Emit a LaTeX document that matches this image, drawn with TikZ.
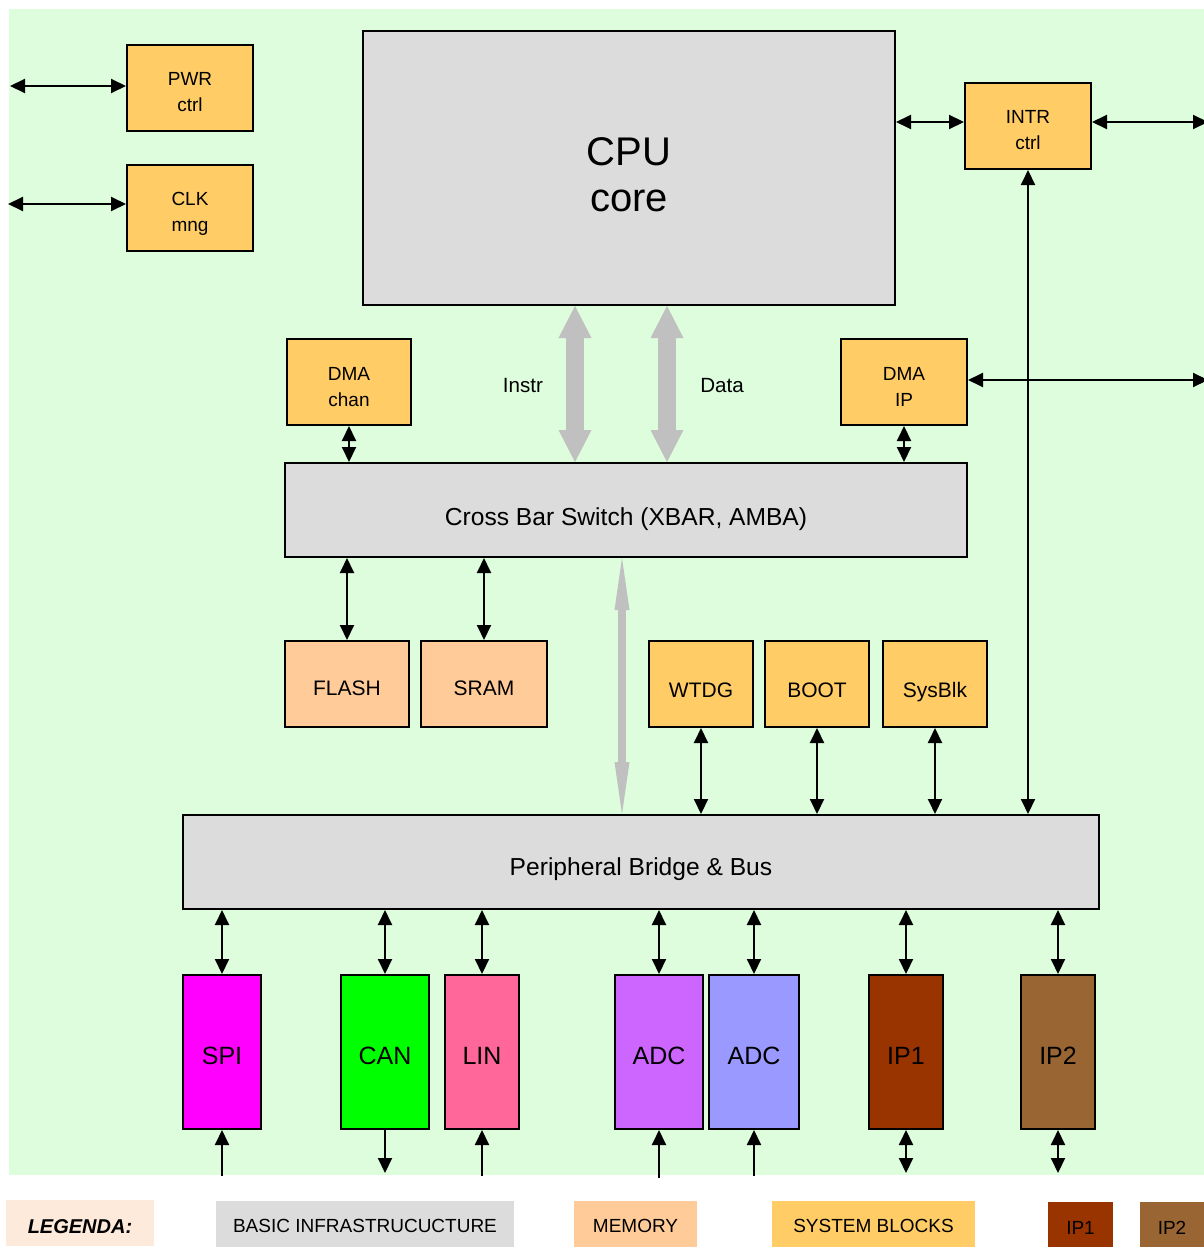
\documentclass[tikz,border=0pt]{standalone}
\usepackage{fontspec}
\setmainfont{Liberation Sans}
\usetikzlibrary{arrows.meta}
\definecolor{socgreen}{HTML}{DDFDDD}
\definecolor{socgray}{HTML}{DCDCDC}
\definecolor{socbus}{HTML}{C0C0C0}
\definecolor{socmemory}{HTML}{FFCC99}
\definecolor{socsystem}{HTML}{FFCC66}
\definecolor{soclegend}{HTML}{FDEADA}
\definecolor{socspi}{HTML}{FF00FF}
\definecolor{soccan}{HTML}{00FF00}
\definecolor{soclin}{HTML}{FF6699}
\definecolor{socadca}{HTML}{CC66FF}
\definecolor{socadcb}{HTML}{9999FF}
\definecolor{socipone}{HTML}{993300}
\definecolor{sociptwo}{HTML}{996633}

\begin{document}
\begin{tikzpicture}[x=0.5pt, y=-0.5pt, >={Triangle[length=7.5pt,width=7pt]},
                    every node/.style={inner sep=0pt, align=center, text=black},
                    blk/.style={draw=black, line width=1pt, font=\fontsize{9.5}{13}\selectfont},
                    twoline/.style={text height=#1},
                    oneline/.style={text height=#1, text depth=2.5pt},
                    sysblk/.style={blk, fill=socsystem},
                    memblk/.style={blk, fill=socmemory, font=\fontsize{10.5}{13}\selectfont, oneline=14pt},
                    infrablk/.style={blk, fill=socgray, font=\fontsize{12.3}{14}\selectfont},
                    ioblk/.style={blk, font=\fontsize{12.5}{15}\selectfont, minimum height=77pt, oneline=14.5pt},
                    legblk/.style={font=\fontsize{9.5}{11}\selectfont, minimum height=23pt, oneline=11.8pt},
                    link/.style={line width=1pt},
                    fatbus/.style={draw=socbus, line width=9pt,
                      {Triangle[length=16pt,width=16.5pt,line width=0pt]}-{Triangle[length=16pt,width=16.5pt,line width=0pt]}},
                    thinbus/.style={draw=socbus, line width=4pt,
                      {Triangle[length=26pt,width=7.5pt,line width=0pt]}-{Triangle[length=26pt,width=7.5pt,line width=0pt]}}]

  %% page and background
  \useasboundingbox (0,0) rectangle (1204,1247);
  \fill[socgreen] (9,9) rectangle (1204,1175);

  %% CPU and system blocks at the top
  \node[infrablk, minimum width=266pt, minimum height=137pt, twoline=43.5pt,
        font=\fontsize{20}{23}\selectfont] (cpu) at (629,168) {CPU\\core};
  \node[sysblk, twoline=24pt, minimum width=63pt, minimum height=43pt] (pwr) at (190,88) {PWR\\ctrl};
  \node[sysblk, twoline=25.5pt, minimum width=63pt, minimum height=43pt] (clk) at (190,207.5) {CLK\\mng};
  \node[sysblk, twoline=24pt, minimum width=63pt, minimum height=43pt] (intr) at (1028,126) {INTR\\ctrl};
  \node[sysblk, twoline=24.8pt, minimum width=62pt, minimum height=43pt] (dmachan) at (349,382) {DMA\\chan};
  \node[sysblk, twoline=24.8pt, minimum width=63pt, minimum height=43pt] (dmaip) at (904,382) {DMA\\IP};

  %% cross bar and peripheral bridge
  \node[infrablk, oneline=18.3pt, minimum width=341pt, minimum height=47pt] (xbar) at (626,510)
    {Cross Bar Switch (XBAR, AMBA)};
  \node[infrablk, oneline=16.3pt, minimum width=458pt, minimum height=47pt] (bridge) at (641,862)
    {Peripheral Bridge \& Bus};

  %% memories and system blocks on the bridge
  \node[memblk, minimum width=62pt, minimum height=43pt] (flash) at (347,684) {FLASH};
  \node[memblk, minimum width=63pt, minimum height=43pt] (sram) at (484,684) {SRAM};
  \node[sysblk, oneline=16pt, minimum width=52pt, minimum height=43pt, font=\fontsize{10.5}{13}\selectfont] (wtdg) at (701,684) {WTDG};
  \node[sysblk, oneline=16pt, minimum width=52pt, minimum height=43pt, font=\fontsize{10.5}{13}\selectfont] (boot) at (817,684) {BOOT};
  \node[sysblk, oneline=16pt, minimum width=52pt, minimum height=43pt, font=\fontsize{10.5}{13}\selectfont] (sysblk) at (935,684) {SysBlk};

  %% peripherals
  \node[ioblk, fill=socspi, minimum width=39pt] (spi) at (222,1052) {SPI};
  \node[ioblk, fill=soccan, minimum width=44pt] (can) at (385,1052) {CAN};
  \node[ioblk, fill=soclin, minimum width=37pt] (lin) at (482,1052) {LIN};
  \node[ioblk, fill=socadca, minimum width=44pt] (adca) at (659,1052) {ADC};
  \node[ioblk, fill=socadcb, minimum width=45pt] (adcb) at (754,1052) {ADC};
  \node[ioblk, fill=socipone, minimum width=37pt] (ipone) at (906,1052) {IP1};
  \node[ioblk, fill=sociptwo, minimum width=37pt] (iptwo) at (1058,1052) {IP2};

  %% labels of the CPU buses
  \node[font=\fontsize{10.3}{12}\selectfont] (instr) at (523,386) {Instr};
  \node[font=\fontsize{10.3}{12}\selectfont] (data) at (722,386) {Data};

  %% free ends
  \coordinate (pwrio) at (10,86);
  \coordinate (clkio) at (8,204);
  \coordinate (intrio) at (1208,122);
  \coordinate (dmaio) at (1208,380);
  \coordinate (instrx) at (575,0);
  \coordinate (datax) at (667,0);
  \coordinate (busx) at (622,0);
  \coordinate (spiio) at (222,1176);
  \coordinate (canio) at (385,1173);
  \coordinate (linio) at (482,1176);
  \coordinate (adcaio) at (659,1178);
  \coordinate (adcbio) at (754,1176);
  \coordinate (iponeio) at (906,1173);
  \coordinate (iptwoio) at (1058,1173);

  %% wide buses
  \draw[fatbus] (cpu.south -| instrx) -- (xbar.north -| instrx);
  \draw[fatbus] (cpu.south -| datax) -- (xbar.north -| datax);
  \draw[thinbus] (xbar.south -| busx) -- (bridge.north -| busx);

  %% signal connectors
  \draw[link, <->] (pwrio) -- (pwrio -| pwr.west);
  \draw[link, <->] (clkio) -- (clkio -| clk.west);
  \draw[link, <->] (intrio -| cpu.east) -- (intrio -| intr.west);
  \draw[link, <->] (intrio -| intr.east) -- (intrio);
  \draw[link, <->] (dmaio -| dmaip.east) -- (dmaio);
  \draw[link, <->] (intr.south) -- (intr.south |- bridge.north);
  \draw[link, <->] (dmachan.south) -- (dmachan.south |- xbar.north);
  \draw[link, <->] (dmaip.south) -- (dmaip.south |- xbar.north);
  \draw[link, <->] (xbar.south -| flash.north) -- (flash.north);
  \draw[link, <->] (xbar.south -| sram.north) -- (sram.north);
  \draw[link, <->] (wtdg.south) -- (wtdg.south |- bridge.north);
  \draw[link, <->] (boot.south) -- (boot.south |- bridge.north);
  \draw[link, <->] (sysblk.south) -- (sysblk.south |- bridge.north);
  \foreach \p in {spi, can, lin, adca, adcb, ipone, iptwo}
    \draw[link, <->] (bridge.south -| \p.north) -- (\p.north);

  %% peripheral pins
  \draw[link, ->] (spiio) -- (spi.south);
  \draw[link, ->] (can.south) -- (canio);
  \draw[link, ->] (linio) -- (lin.south);
  \draw[link, ->] (adcaio) -- (adca.south);
  \draw[link, ->] (adcbio) -- (adcb.south);
  \draw[link, <->] (ipone.south) -- (iponeio);
  \draw[link, <->] (iptwo.south) -- (iptwoio);

  %% legend
  \node[legblk, fill=soclegend, minimum width=74pt, oneline=12.7pt, font=\fontsize{10}{11}\selectfont\bfseries\itshape]
    (legenda) at (80,1223) {LEGENDA:};
  \node[legblk, fill=socgray, minimum width=149pt] (leginfra) at (365,1223.5) {BASIC INFRASTRUCUCTURE};
  \node[legblk, fill=socmemory, minimum width=61.5pt] (legmem) at (635.5,1223.5) {MEMORY};
  \node[legblk, fill=socsystem, minimum width=101.5pt] (legsys) at (873.5,1223.5) {SYSTEM BLOCKS};
  \node[legblk, fill=socipone, minimum width=32.5pt, minimum height=22.5pt, oneline=12.8pt] (legipone) at (1080.5,1224.5) {IP1};
  \node[legblk, fill=sociptwo, minimum width=32pt, minimum height=22.5pt, oneline=12.8pt] (legiptwo) at (1172,1224.5) {IP2};

\end{tikzpicture}
\end{document}
